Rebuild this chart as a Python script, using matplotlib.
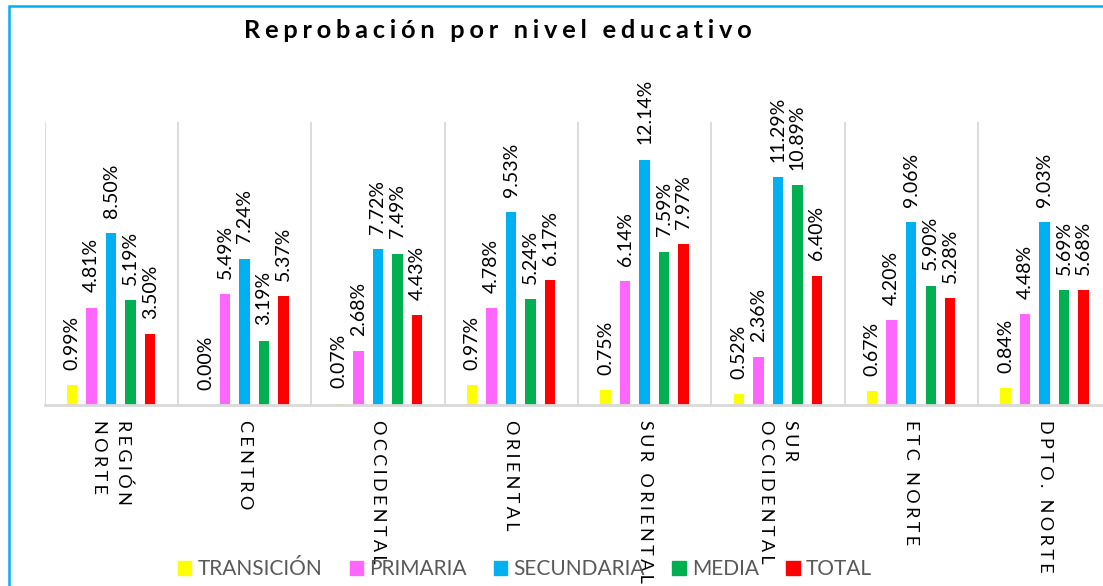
import matplotlib
matplotlib.use("Agg")
import matplotlib.pyplot as plt
from matplotlib.patches import Patch, Rectangle
import numpy as np

plt.rcParams["font.family"] = ["Lato", "DejaVu Sans"]

categories = ["REGIÓN\nNORTE", "CENTRO", "OCCIDENTAL", "ORIENTAL", "SUR ORIENTAL",
              "SUR\nOCCIDENTAL", "ETC NORTE", "DPTO. NORTE"]
series = ["TRANSICIÓN", "PRIMARIA", "SECUNDARIA", "MEDIA", "TOTAL"]
transicion = [0.99, 0.00, 0.07, 0.97, 0.75, 0.52, 0.67, 0.84]
primaria = [4.81, 5.49, 2.68, 4.78, 6.14, 2.36, 4.20, 4.48]
secundaria = [8.50, 7.24, 7.72, 9.53, 12.14, 11.29, 9.06, 9.03]
media = [5.19, 3.19, 7.49, 5.24, 7.59, 10.89, 5.90, 5.69]
total = [3.50, 5.37, 4.43, 6.17, 7.97, 6.40, 5.28, 5.68]
colors = ["#FFFF00", "#FF66FF", "#00B0F0", "#00B050", "#FF0000"]


def spaced(s, gap="\u2009"):
    # letter spacing like the original chart
    out = []
    for line in s.split("\n"):
        words = [gap.join(w) for w in line.split(" ")]
        out.append((gap + " " + gap).join(words))
    return "\n".join(out)


fig = plt.figure(figsize=(11.03, 5.86), dpi=100)
ax = fig.add_axes([44.5 / 1103, 181 / 586, 1066.7 / 1103, 283 / 586])

x = np.arange(len(categories))
values = [transicion, primaria, secundaria, media, total]
for j, (vals, col) in enumerate(zip(values, colors)):
    xs = x + (j - 2) * 0.1463
    ax.bar(xs, vals, width=0.078, color=col, zorder=3)
    for xi, v in zip(xs, vals):
        ax.annotate(f"{v:.2f}%", (xi, v), xytext=(0, 11), textcoords="offset points",
                    rotation=90, ha="center", va="bottom", fontsize=14, color="black")

ax.set_xlim(-0.5, 7.5)
ax.set_ylim(0, 14)
for s in ax.spines.values():
    s.set_visible(False)
ax.set_yticks([])
ax.vlines(np.arange(len(categories) + 1) - 0.5, 0, 14, color="#D9D9D9", lw=1.3, zorder=1)
ax.axhline(0, color="#D9D9D9", lw=2, zorder=4, clip_on=False)
ax.set_xticks(x)
ax.set_xticklabels([spaced(c, "\u2009\u200a") for c in categories], rotation=-90, ha="center",
                   va="top", multialignment="left", fontsize=13, color="black", linespacing=1.65)
ax.tick_params(axis="x", length=0, pad=11)

fig.text(498 / 1103, 1 - 30 / 586, spaced("Reprobación por nivel educativo", "\u2009\u200a"),
         ha="center", va="center", fontsize=18.3, fontweight="bold", color="black")

handles = [Patch(color=c) for c in colors]
fig.legend(handles, series, loc="center", bbox_to_anchor=(525 / 1103, 17 / 586), ncol=5,
           frameon=False, fontsize=15, labelcolor="#595959", handlelength=0.65, handleheight=0.65,
           handletextpad=0.3, columnspacing=1.3, borderpad=0)

fig.patches.append(Rectangle((9 / 1103, -0.1), 1.2, 1 - 6 / 586 + 0.1, transform=fig.transFigure,
                             fill=False, edgecolor="#00B0F0", lw=1.8))

fig.savefig("out.png", dpi=100)
